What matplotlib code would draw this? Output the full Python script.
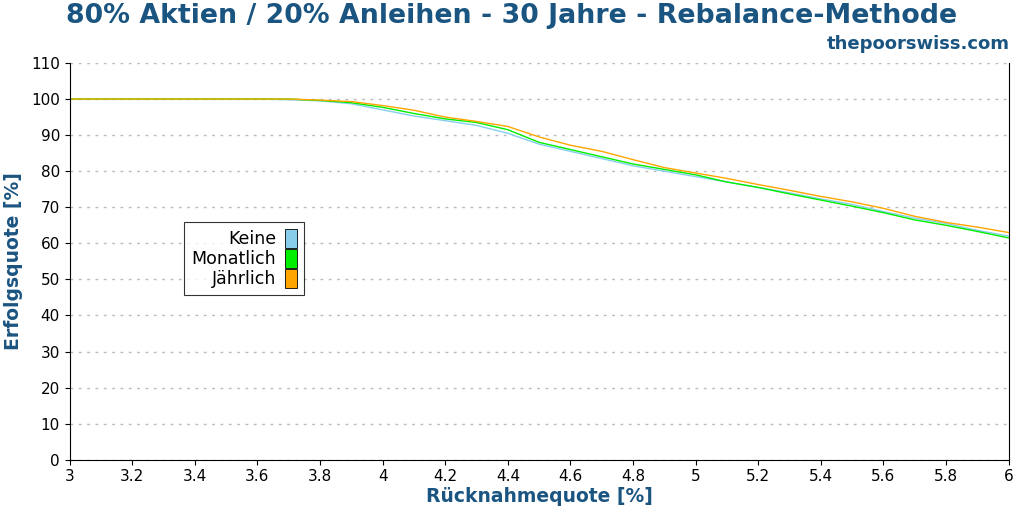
import numpy as np
import matplotlib
matplotlib.use("Agg")
from matplotlib import pyplot as plt
from matplotlib.patches import Patch

rates = [3.0, 3.1, 3.2, 3.3, 3.4, 3.5, 3.6, 3.7, 3.8, 3.9, 4.0, 4.1, 4.2, 4.3, 4.4, 4.5,
         4.6, 4.7, 4.8, 4.9, 5.0, 5.1, 5.2, 5.3, 5.4, 5.5, 5.6, 5.7, 5.8, 5.9, 6.0]
keine = [100, 100, 100, 100, 100, 100, 100, 99.8, 99.5, 98.7, 97.0, 95.3, 94.0, 92.7, 90.5,
         87.5, 85.5, 83.5, 81.5, 80.0, 78.5, 77.0, 75.5, 74.0, 72.3, 70.8, 68.8, 67.0, 65.5, 63.6, 62.0]
monatlich = [100, 100, 100, 100, 100, 100, 100, 100, 99.6, 99.0, 97.7, 96.0, 94.5, 93.5, 91.5,
             88.0, 86.0, 84.0, 82.0, 80.5, 79.0, 77.0, 75.5, 73.7, 72.0, 70.3, 68.5, 66.5, 65.0, 63.3, 61.5]
jaehrlich = [100, 100, 100, 100, 100, 100, 100, 100, 99.7, 99.3, 98.2, 96.9, 95.0, 93.8, 92.4,
             89.5, 87.2, 85.5, 83.2, 81.0, 79.5, 78.0, 76.3, 74.7, 73.0, 71.5, 69.7, 67.5, 65.8, 64.5, 63.0]

series = [("Keine", keine, "#87CEEB"), ("Monatlich", monatlich, "#00EE00"), ("Jährlich", jaehrlich, "#FFA500")]
blue = "#1a5480"

fig = plt.figure(figsize=(10.24, 5.12), dpi=100)
ax = fig.add_axes([0.068, 0.102, 0.917, 0.775])

for name, vals, col in series:
    ax.plot(rates, vals, color=col, lw=1)

ax.set_xlim(3, 6)
ax.set_ylim(0, 110)
ax.set_xticks(np.arange(3, 6.01, 0.2))
ax.set_xticklabels([f"{v:g}" for v in np.round(np.arange(3, 6.01, 0.2), 1)])
ax.set_yticks(range(0, 111, 10))
ax.yaxis.grid(True, linestyle=(0, (2, 4)), color="#bbbbbb", lw=1)
ax.tick_params(labelsize=11)
ax.spines["top"].set_visible(False)
ax.set_xlabel("Rücknahmequote [%]", color=blue, fontsize=13.5, fontweight="bold", labelpad=2)
ax.set_ylabel("Erfolgsquote [%]", color=blue, fontsize=13.5, fontweight="bold", labelpad=6)

handles = [Patch(facecolor=c, edgecolor="black", lw=0.6) for _, _, c in series]
leg = ax.legend(handles, [n for n, _, _ in series], loc="upper left", bbox_to_anchor=(0.113, 0.622),
                markerfirst=False, fontsize=12.5, frameon=True, fancybox=False, edgecolor="black",
                handlelength=0.7, handleheight=1.3, handletextpad=0.5, borderpad=0.4, labelspacing=0.05)
leg.get_frame().set_linewidth(0.8)

fig.text(0.5, 0.968, "80% Aktien / 20% Anleihen - 30 Jahre - Rebalance-Methode", ha="center", va="center",
         fontsize=19.3, fontweight="bold", color=blue)
fig.text(0.986, 0.915, "thepoorswiss.com", ha="right", va="center", fontsize=13, fontweight="bold", color=blue)

fig.savefig("out.png")
